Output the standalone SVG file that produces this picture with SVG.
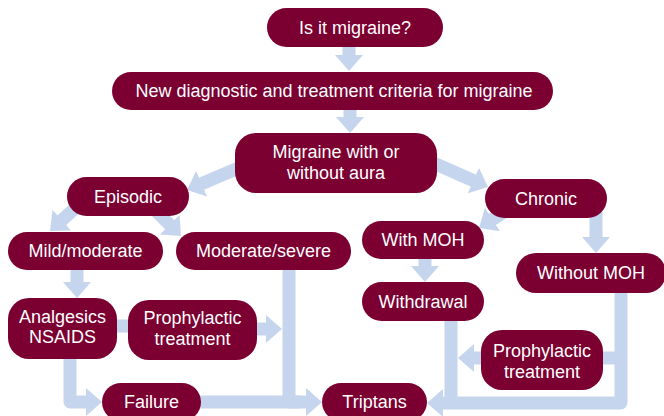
<svg xmlns="http://www.w3.org/2000/svg" width="664" height="416" viewBox="0 0 664 416">
<defs>
<style>
.c{fill:none;stroke:#c6d5ee;stroke-width:13;stroke-linejoin:round}
.a{marker-end:url(#ah)}
.n{fill:#7b0031}
.t{font-family:"Liberation Sans",Arial,sans-serif;font-size:18px;fill:#ffffff;text-anchor:middle}
</style>
<marker id="ah" viewBox="0 0 16 28" refX="4" refY="14" markerWidth="16" markerHeight="28" markerUnits="userSpaceOnUse" orient="auto">
<path d="M0,0 L16,14 L0,28 z" fill="#c6d5ee"/>
</marker>
</defs>
<rect width="664" height="416" fill="#ffffff"/>
<g id="connectors">
<path class="c a" d="M349,40 V59"/>
<path class="c a" d="M350,105 V121"/>
<path class="c a" d="M250,163 L198,185.3"/>
<path class="c a" d="M420,157 L477,182.2"/>
<path class="c a" d="M82,202 L58.9,222.9"/>
<path class="c a" d="M150,205 L172.5,227.5"/>
<path class="c a" d="M515,205 L489.1,221.5"/>
<path class="c a" d="M596,212 V241"/>
<path class="c a" d="M425,255 V270"/>
<path class="c a" d="M77,265 V286"/>
<path class="c" d="M112,326 H133"/>
<path class="c a" d="M250,329 H270"/>
<path class="c a" d="M289,265 V402 H310"/>
<path class="c" d="M195,402 H300"/>
<path class="c a" d="M70,352 V402 H90"/>
<path class="c a" d="M621,287 V403 H439"/>
<path class="c" d="M451,315 V403"/>
<path class="c a" d="M490,358 H470"/>
<path class="c" d="M595,358 H621"/>
</g>
<g id="n1"><rect class="n" x="267" y="8" width="176" height="39" rx="19.5"/><text class="t" x="355" y="33.5">Is it migraine?</text></g>
<g id="n2"><rect class="n" x="112" y="72" width="441" height="38" rx="19"/><text class="t" x="334" y="97">New diagnostic and treatment criteria for migraine</text></g>
<g id="n3"><rect class="n" x="235" y="133" width="202" height="60" rx="21"/><text class="t" x="336" y="158">Migraine with or</text><text class="t" x="336" y="179">without aura</text></g>
<g id="n4"><rect class="n" x="67" y="177" width="122" height="39" rx="19.5"/><text class="t" x="128" y="203">Episodic</text></g>
<g id="n5"><rect class="n" x="485" y="179" width="122" height="39" rx="19.5"/><text class="t" x="546" y="205">Chronic</text></g>
<g id="n6"><rect class="n" x="8" y="232" width="155" height="38" rx="19"/><text class="t" x="85.5" y="257">Mild/moderate</text></g>
<g id="n7"><rect class="n" x="176" y="232" width="175" height="38" rx="19"/><text class="t" x="263.5" y="257">Moderate/severe</text></g>
<g id="n8"><rect class="n" x="362" y="221" width="122" height="38" rx="19"/><text class="t" x="423" y="246">With MOH</text></g>
<g id="n9"><rect class="n" x="516" y="253" width="150" height="40" rx="20"/><text class="t" x="591" y="279">Without MOH</text></g>
<g id="n10"><rect class="n" x="362" y="282" width="122" height="39" rx="19.5"/><text class="t" x="423" y="308">Withdrawal</text></g>
<g id="n11"><rect class="n" x="8" y="298" width="109" height="61" rx="21"/><text class="t" x="62.5" y="323">Analgesics</text><text class="t" x="62.5" y="343">NSAIDS</text></g>
<g id="n12"><rect class="n" x="128" y="300" width="129" height="60" rx="21"/><text class="t" x="192.5" y="324">Prophylactic</text><text class="t" x="192.5" y="345">treatment</text></g>
<g id="n13"><rect class="n" x="481" y="330" width="122" height="60" rx="21"/><text class="t" x="542" y="357">Prophylactic</text><text class="t" x="542" y="378">treatment</text></g>
<g id="n14"><rect class="n" x="102" y="383" width="99" height="38" rx="19"/><text class="t" x="151.5" y="408">Failure</text></g>
<g id="n15"><rect class="n" x="322" y="383" width="105" height="38" rx="19"/><text class="t" x="374.5" y="408">Triptans</text></g>
</svg>
